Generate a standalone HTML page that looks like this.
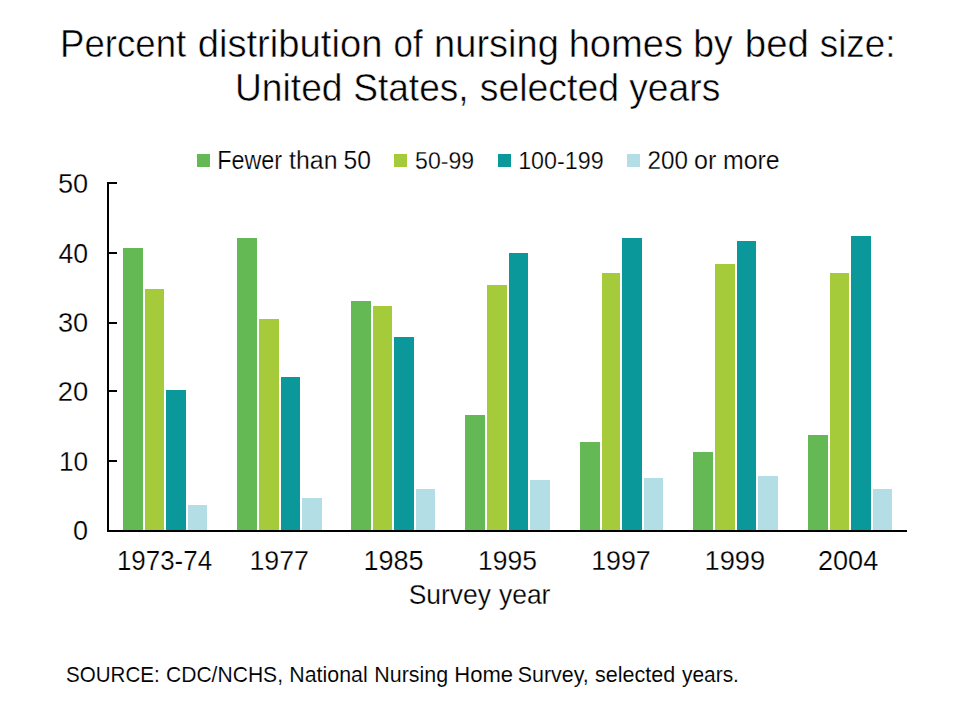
<!DOCTYPE html>
<html><head><meta charset="utf-8"><style>
html,body{margin:0;padding:0;background:#fff;}
svg{display:block;}
text{font-family:"Liberation Sans",sans-serif;fill:#000;stroke:#fff;}
</style></head><body>
<svg width="960" height="720" viewBox="0 0 960 720">
<rect width="960" height="720" fill="#fff"/>
<g shape-rendering="crispEdges">
<rect x="123" y="248" width="20" height="282" fill="#64b955"/>
<rect x="145" y="289" width="19" height="241" fill="#a5ca3a"/>
<rect x="166" y="390" width="20" height="140" fill="#0b989a"/>
<rect x="188" y="505" width="19" height="25" fill="#b4dee5"/>
<rect x="237" y="238" width="20" height="292" fill="#64b955"/>
<rect x="259" y="319" width="20" height="211" fill="#a5ca3a"/>
<rect x="281" y="377" width="19" height="153" fill="#0b989a"/>
<rect x="302" y="498" width="20" height="32" fill="#b4dee5"/>
<rect x="351" y="301" width="20" height="229" fill="#64b955"/>
<rect x="373" y="306" width="19" height="224" fill="#a5ca3a"/>
<rect x="394" y="337" width="20" height="193" fill="#0b989a"/>
<rect x="416" y="489" width="19" height="41" fill="#b4dee5"/>
<rect x="465" y="415" width="20" height="115" fill="#64b955"/>
<rect x="487" y="285" width="20" height="245" fill="#a5ca3a"/>
<rect x="509" y="253" width="19" height="277" fill="#0b989a"/>
<rect x="530" y="480" width="20" height="50" fill="#b4dee5"/>
<rect x="580" y="442" width="20" height="88" fill="#64b955"/>
<rect x="602" y="273" width="18" height="257" fill="#a5ca3a"/>
<rect x="622" y="238" width="20" height="292" fill="#0b989a"/>
<rect x="644" y="478" width="19" height="52" fill="#b4dee5"/>
<rect x="693" y="452" width="20" height="78" fill="#64b955"/>
<rect x="715" y="264" width="20" height="266" fill="#a5ca3a"/>
<rect x="737" y="241" width="19" height="289" fill="#0b989a"/>
<rect x="758" y="476" width="20" height="54" fill="#b4dee5"/>
<rect x="808" y="435" width="20" height="95" fill="#64b955"/>
<rect x="830" y="273" width="19" height="257" fill="#a5ca3a"/>
<rect x="851" y="236" width="20" height="294" fill="#0b989a"/>
<rect x="873" y="489" width="19" height="41" fill="#b4dee5"/>
<rect x="107" y="183" width="2" height="349" fill="#000"/>
<rect x="107" y="530" width="800" height="2" fill="#000"/>
<rect x="107" y="182" width="10" height="2" fill="#000"/>
<rect x="107" y="252" width="10" height="2" fill="#000"/>
<rect x="107" y="322" width="10" height="2" fill="#000"/>
<rect x="107" y="390" width="10" height="2" fill="#000"/>
<rect x="107" y="460" width="10" height="2" fill="#000"/>
<rect x="197" y="154" width="13" height="13" fill="#64b955"/>
<rect x="394" y="154" width="13" height="13" fill="#a5ca3a"/>
<rect x="498" y="154" width="13" height="13" fill="#0b989a"/>
<rect x="627" y="154" width="13" height="13" fill="#b4dee5"/>
</g>
<g>
<text transform="translate(60.07 57) scale(0.9355 1)" font-size="39.13" stroke-width="0.5">Percent</text>
<text transform="translate(197.67 57) scale(0.9768 1)" font-size="39.13" stroke-width="0.5">distribution</text>
<text transform="translate(393.61 57) scale(0.8896 1)" font-size="39.13" stroke-width="0.5">of</text>
<text transform="translate(434.03 57) scale(0.9734 1)" font-size="39.13" stroke-width="0.5">nursing</text>
<text transform="translate(568.63 57) scale(0.9755 1)" font-size="39.13" stroke-width="0.5">homes</text>
<text transform="translate(693.18 57) scale(0.957 1)" font-size="39.13" stroke-width="0.5">by</text>
<text transform="translate(744.81 57) scale(0.9821 1)" font-size="39.13" stroke-width="0.5">bed</text>
<text transform="translate(819.69 57) scale(0.9428 1)" font-size="39.13" stroke-width="0.5">size:</text>
<text transform="translate(235.02 101) scale(0.9507 1)" font-size="39.13" stroke-width="0.5">United</text>
<text transform="translate(353.14 101) scale(0.9491 1)" font-size="39.13" stroke-width="0.5">States,</text>
<text transform="translate(479.68 101) scale(0.9567 1)" font-size="39.13" stroke-width="0.5">selected</text>
<text transform="translate(629.2 101) scale(0.9522 1)" font-size="39.13" stroke-width="0.5">years</text>
<text transform="translate(217.13 169) scale(0.8968 1)" font-size="26.087" stroke-width="0.25">Fewer</text>
<text transform="translate(289.1 169) scale(0.9522 1)" font-size="26.087" stroke-width="0.25">than</text>
<text transform="translate(343.61 169) scale(0.9453 1)" font-size="26.087" stroke-width="0.25">50</text>
<text transform="translate(415.08 169) scale(0.9367 1)" font-size="24.638" stroke-width="0.25">50-99</text>
<text transform="translate(518.14 169) scale(0.9459 1)" font-size="24.638" stroke-width="0.25">100-199</text>
<text transform="translate(647.54 169) scale(0.928 1)" font-size="26.087" stroke-width="0.25">200</text>
<text transform="translate(694.0 169) scale(0.9606 1)" font-size="26.087" stroke-width="0.25">or</text>
<text transform="translate(722.96 169) scale(0.9548 1)" font-size="26.087" stroke-width="0.25">more</text>
<text transform="translate(57.91 193) scale(0.9872 1)" font-size="27.536" stroke-width="0.25">50</text>
<text transform="translate(58.47 263) scale(0.9684 1)" font-size="27.536" stroke-width="0.25">40</text>
<text transform="translate(57.91 332) scale(0.9872 1)" font-size="27.536" stroke-width="0.25">30</text>
<text transform="translate(57.63 401) scale(0.9969 1)" font-size="27.536" stroke-width="0.25">20</text>
<text transform="translate(58.9 471) scale(0.9537 1)" font-size="27.536" stroke-width="0.25">10</text>
<text transform="translate(72.92 540) scale(0.9836 1)" font-size="27.536" stroke-width="0.25">0</text>
<text transform="translate(116.93 570) scale(0.9416 1)" font-size="27.536" stroke-width="0.25">1973-74</text>
<text transform="translate(249.46 570) scale(0.9713 1)" font-size="27.536" stroke-width="0.25">1977</text>
<text transform="translate(363.44 570) scale(0.9823 1)" font-size="27.536" stroke-width="0.25">1985</text>
<text transform="translate(478.09 570) scale(0.9598 1)" font-size="27.536" stroke-width="0.25">1995</text>
<text transform="translate(591.16 570) scale(0.9731 1)" font-size="27.536" stroke-width="0.25">1997</text>
<text transform="translate(704.52 570) scale(0.9909 1)" font-size="27.536" stroke-width="0.25">1999</text>
<text transform="translate(817.94 570) scale(0.9843 1)" font-size="27.536" stroke-width="0.25">2004</text>
<text transform="translate(408.68 603.5) scale(0.9613 1)" font-size="27.536" stroke-width="0.25">Survey</text>
<text transform="translate(499.0 603.5) scale(0.9596 1)" font-size="27.536" stroke-width="0.25">year</text>
<text transform="translate(65.97 682) scale(0.9466 1)" font-size="21.739" stroke-width="0.1">SOURCE:</text>
<text transform="translate(165.95 682) scale(0.9696 1)" font-size="21.739" stroke-width="0.1">CDC/NCHS,</text>
<text transform="translate(289.29 682) scale(0.9834 1)" font-size="21.739" stroke-width="0.1">National</text>
<text transform="translate(374.28 682) scale(0.9869 1)" font-size="21.739" stroke-width="0.1">Nursing</text>
<text transform="translate(454.24 682) scale(1.0142 1)" font-size="21.739" stroke-width="0.1">Home</text>
<text transform="translate(517.68 682) scale(0.9873 1)" font-size="21.739" stroke-width="0.1">Survey,</text>
<text transform="translate(594.95 682) scale(0.9903 1)" font-size="21.739" stroke-width="0.1">selected</text>
<text transform="translate(682.0 682) scale(0.962 1)" font-size="21.739" stroke-width="0.1">years.</text>
</g>
</svg>
</body></html>
